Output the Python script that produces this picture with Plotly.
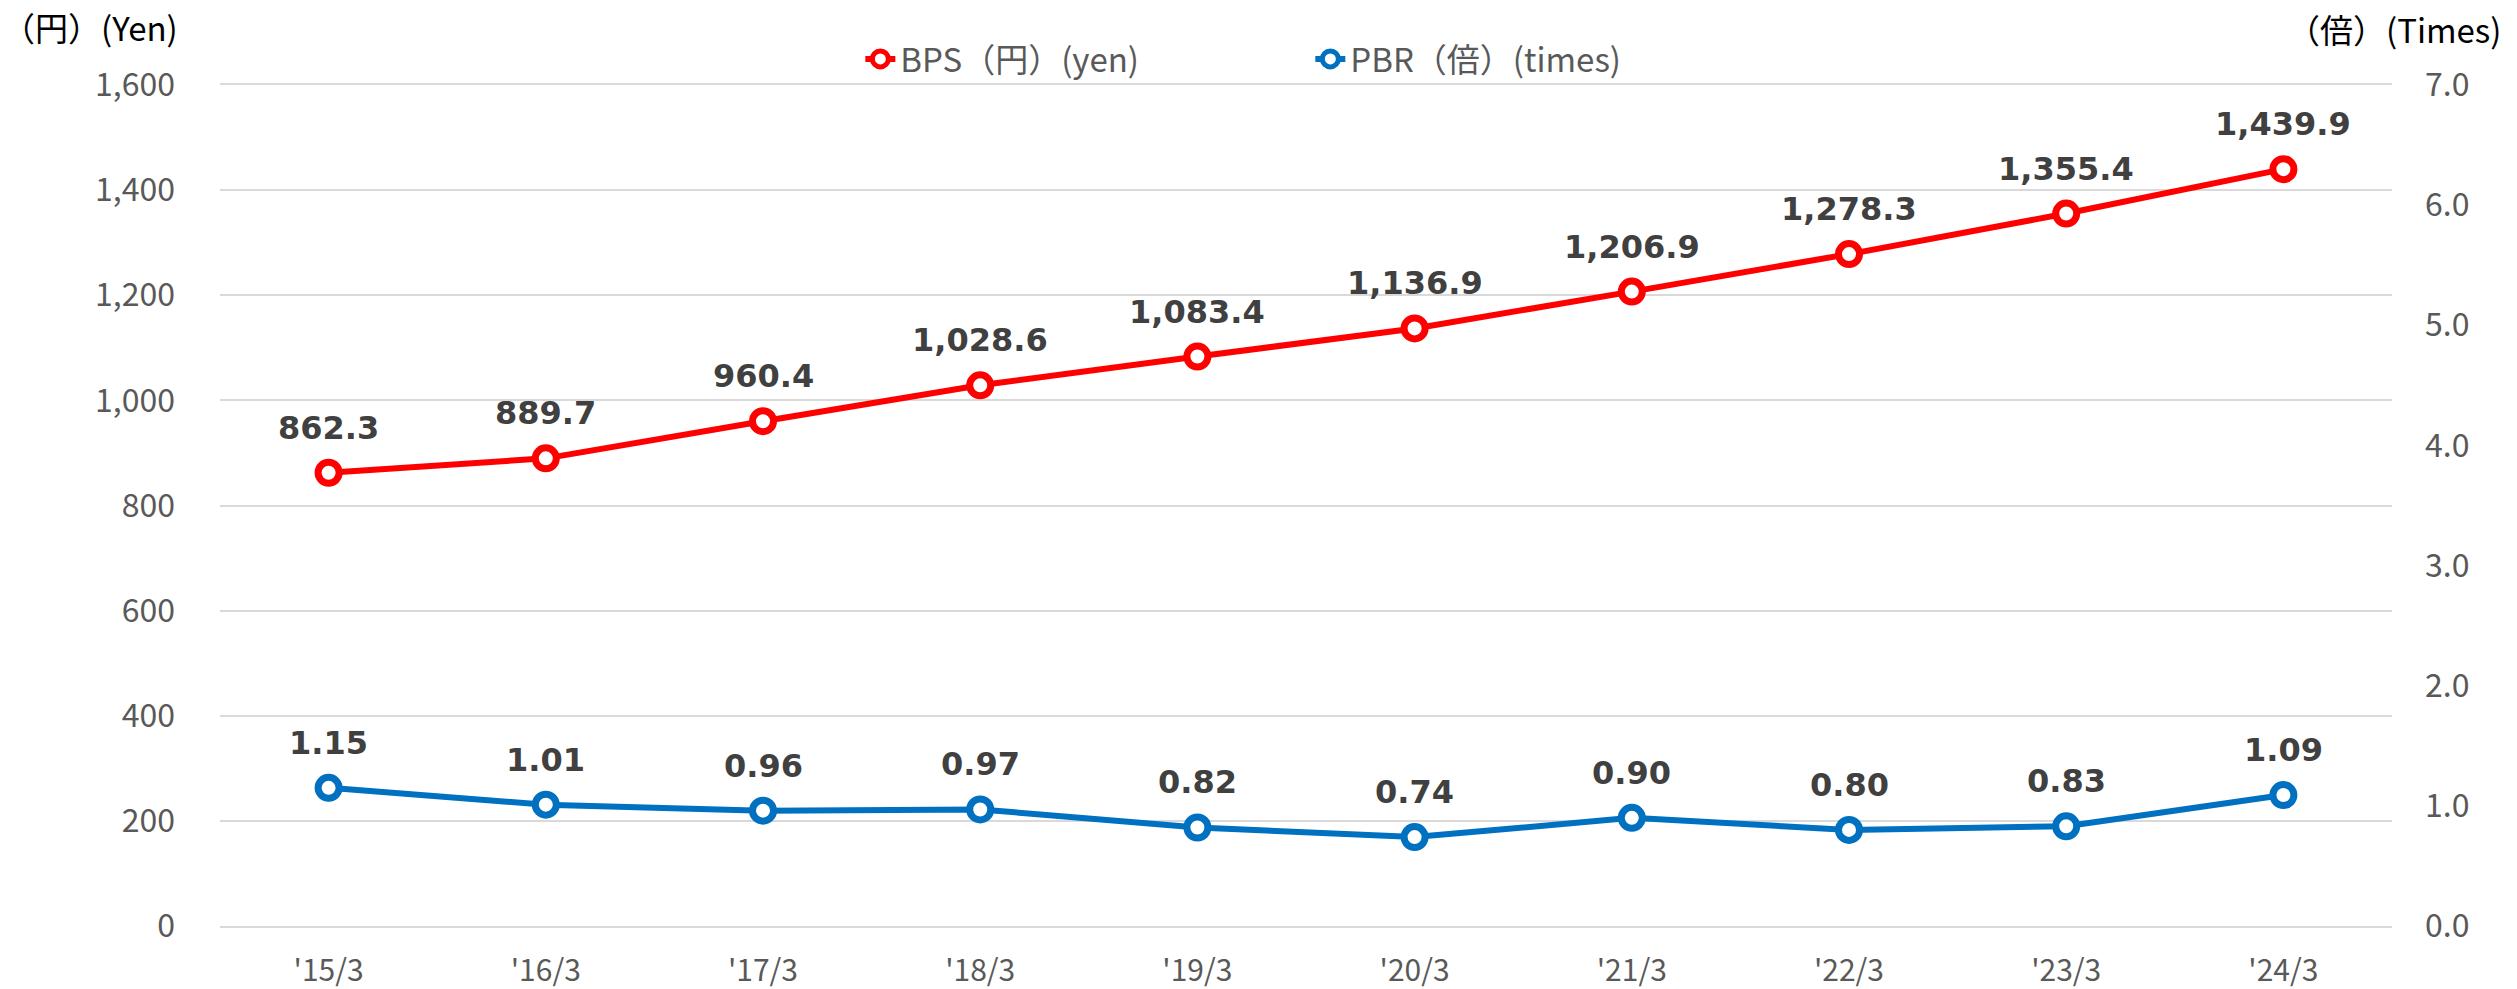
import plotly.graph_objects as go

# data
periods = ["'15/3", "'16/3", "'17/3", "'18/3", "'19/3", "'20/3", "'21/3", "'22/3", "'23/3", "'24/3"]
bps = [862.3, 889.7, 960.4, 1028.6, 1083.4, 1136.9, 1206.9, 1278.3, 1355.4, 1439.9]
pbr = [1.15, 1.01, 0.96, 0.97, 0.82, 0.74, 0.90, 0.80, 0.83, 1.09]

RED = "#ff0000"
BLUE = "#0070c0"
GRAY = "#595959"
LABEL = "#404040"
GRID = "#d9d9d9"
TICK_FONT = dict(family="Noto Sans CJK JP", size=32, color=GRAY)
LABEL_FONT = dict(family="DejaVu Sans", size=32, color=LABEL, weight="bold")

fig = go.Figure()

fig.add_trace(go.Scatter(
    x=periods, y=bps, name="BPS（円）(yen)",
    mode="lines+markers",
    line=dict(color=RED, width=6),
    marker=dict(size=21, color="white", line=dict(color=RED, width=7)),
    yaxis="y",
))
fig.add_trace(go.Scatter(
    x=periods, y=pbr, name="PBR（倍）(times)",
    mode="lines+markers",
    line=dict(color=BLUE, width=6),
    marker=dict(size=21, color="white", line=dict(color=BLUE, width=7)),
    yaxis="y2",
))

# data labels
annotations = []
for p, v in zip(periods, bps):
    annotations.append(dict(x=p, y=v, xref="x", yref="y", text=f"{v:,.1f}",
                            showarrow=False, yshift=45, font=LABEL_FONT))
for p, v in zip(periods, pbr):
    annotations.append(dict(x=p, y=v, xref="x", yref="y2", text=f"{v:.2f}",
                            showarrow=False, yshift=45, font=LABEL_FONT))

# axis unit labels
annotations.append(dict(
    x=0, y=1, xref="paper", yref="paper", xanchor="left", yanchor="middle",
    xshift=-220, yshift=58, text="（円）(Yen)", showarrow=False,
    font=dict(family="Noto Sans CJK JP", size=33, color="black"),
))
annotations.append(dict(
    x=1, y=1, xref="paper", yref="paper", xanchor="right", yanchor="middle",
    xshift=111, yshift=56, text="（倍）(Times)", showarrow=False,
    font=dict(family="Noto Sans CJK JP", size=33, color="black"),
))

fig.update_layout(
    width=2517, height=989,
    margin=dict(l=220, r=125, t=85, b=63, autoexpand=False),
    plot_bgcolor="white", paper_bgcolor="white",
    showlegend=True,
    legend=dict(
        orientation="h", x=0.502, xanchor="center", y=1.031, yanchor="middle",
        font=dict(family="Noto Sans CJK JP", size=33, color=GRAY),
        bgcolor="rgba(0,0,0,0)",
        itemwidth=30, entrywidth=405,
    ),
    xaxis=dict(
        type="category", range=[-0.5, 9.5], showgrid=False,
        showline=True, linecolor=GRID, linewidth=2, mirror=True,
        zeroline=False, tickfont=dict(TICK_FONT, size=30), ticks="",
        ticklabelstandoff=17,
    ),
    yaxis=dict(
        range=[0, 1600], dtick=200, tickformat=",d", showgrid=True,
        gridcolor=GRID, gridwidth=2, zeroline=False, showline=False,
        tickfont=TICK_FONT, ticklabelstandoff=44,
    ),
    yaxis2=dict(
        range=[0, 7], dtick=1, tickformat=".1f", overlaying="y", side="right",
        showgrid=False, zeroline=False, showline=False,
        tickfont=TICK_FONT, ticklabelstandoff=32,
    ),
    annotations=annotations,
)

# drop the default body margin so the figure fills the window exactly
fig.write_html("out.html", config={"displayModeBar": False},
               post_script="document.body.style.margin='0';")
